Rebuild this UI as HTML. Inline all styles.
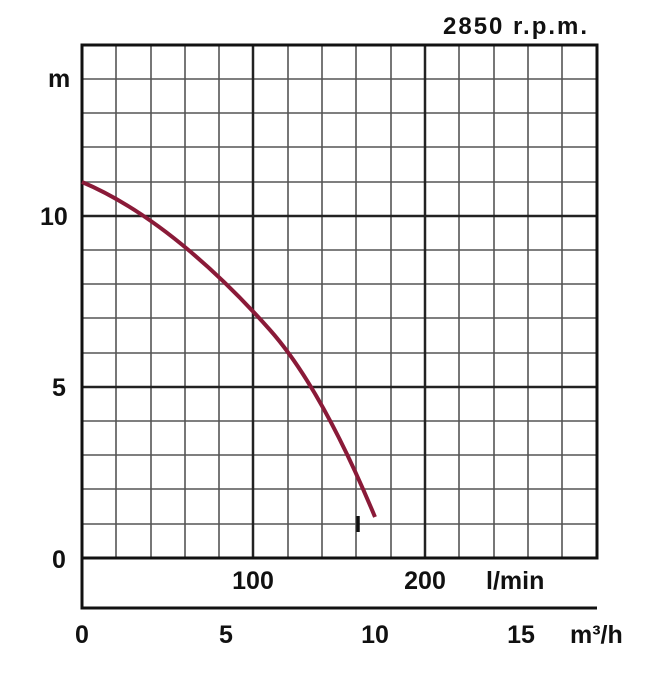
<!DOCTYPE html>
<html><head><style>body{margin:0;background:#fff}</style></head><body>
<svg width="659" height="672" xmlns="http://www.w3.org/2000/svg" font-family="Liberation Sans, sans-serif" font-weight="bold">
<rect width="659" height="672" fill="#fff"/>
<g stroke="#555" stroke-width="1.6">
<line x1="116" y1="45" x2="116" y2="558"/><line x1="151" y1="45" x2="151" y2="558"/>
<line x1="185" y1="45" x2="185" y2="558"/><line x1="219" y1="45" x2="219" y2="558"/>
<line x1="288" y1="45" x2="288" y2="558"/><line x1="322" y1="45" x2="322" y2="558"/>
<line x1="356" y1="45" x2="356" y2="558"/><line x1="391" y1="45" x2="391" y2="558"/>
<line x1="459" y1="45" x2="459" y2="558"/><line x1="494" y1="45" x2="494" y2="558"/>
<line x1="528" y1="45" x2="528" y2="558"/><line x1="562" y1="45" x2="562" y2="558"/>
<line x1="82" y1="79" x2="597" y2="79"/><line x1="82" y1="113" x2="597" y2="113"/>
<line x1="82" y1="147" x2="597" y2="147"/><line x1="82" y1="182" x2="597" y2="182"/>
<line x1="82" y1="250" x2="597" y2="250"/><line x1="82" y1="284" x2="597" y2="284"/>
<line x1="82" y1="318" x2="597" y2="318"/><line x1="82" y1="353" x2="597" y2="353"/>
<line x1="82" y1="421" x2="597" y2="421"/><line x1="82" y1="455" x2="597" y2="455"/>
<line x1="82" y1="489" x2="597" y2="489"/><line x1="82" y1="524" x2="597" y2="524"/>
</g>
<g stroke="#222" stroke-width="2.5">
<line x1="253" y1="45" x2="253" y2="558"/><line x1="425" y1="45" x2="425" y2="558"/>
<line x1="82" y1="216" x2="597" y2="216"/><line x1="82" y1="387" x2="597" y2="387"/>
</g>
<g stroke="#111" stroke-width="3" fill="none">
<rect x="82" y="45" width="515" height="513"/>
<polyline points="82,558 82,608 597,608"/>
</g>
<path d="M82,182 C160,215 230,285 270,330 C310,375 345,445 375,517" stroke="#8a1a38" stroke-width="4" fill="none"/>
<line x1="358" y1="516" x2="358" y2="532" stroke="#111" stroke-width="3.5"/>
<g font-size="25" fill="#111">
<text x="443" y="34" font-size="24" textLength="144">2850 r.p.m.</text>
<text x="48" y="87">m</text>
<text x="40" y="225">10</text>
<text x="52" y="396">5</text>
<text x="52" y="568">0</text>
<text x="253" y="589" text-anchor="middle">100</text>
<text x="425" y="589" text-anchor="middle">200</text>
<text x="486" y="589">l/min</text>
<text x="82" y="643" text-anchor="middle">0</text>
<text x="226" y="643" text-anchor="middle">5</text>
<text x="375" y="643" text-anchor="middle">10</text>
<text x="521" y="643" text-anchor="middle">15</text>
<text x="570" y="643">m³/h</text>
</g>
</svg>
</body></html>
